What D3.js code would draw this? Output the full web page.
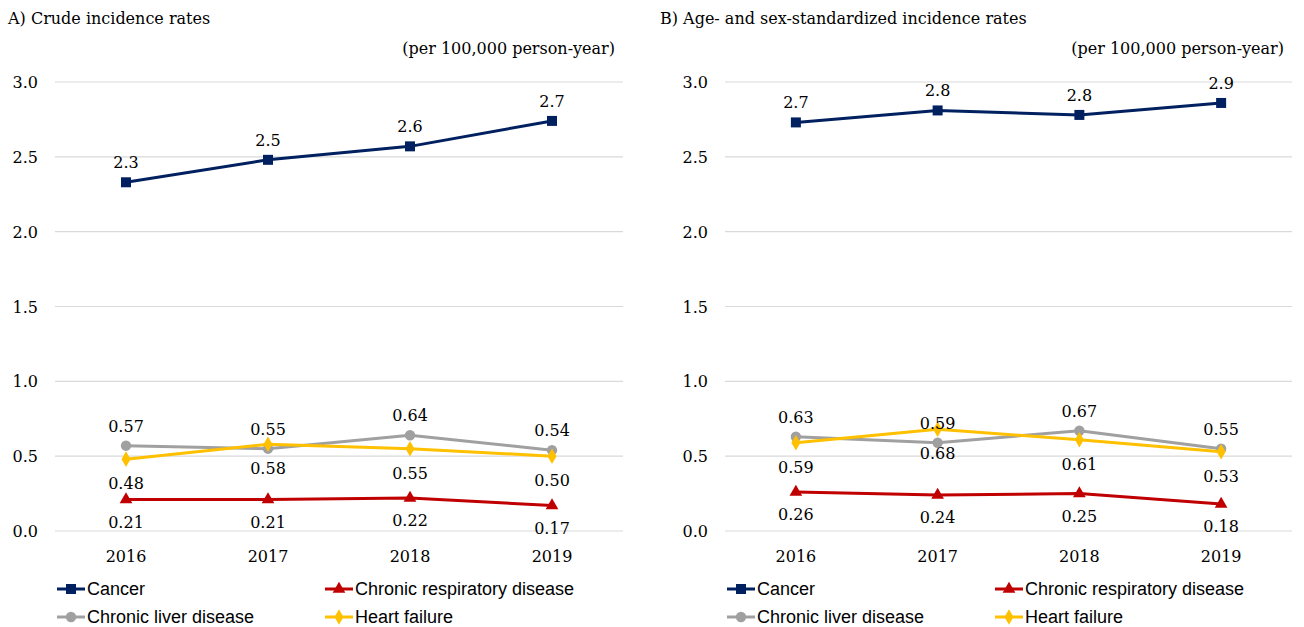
<!DOCTYPE html>
<html>
<head>
<meta charset="utf-8">
<script src="https://cdn.jsdelivr.net/npm/d3@7"></script>
<style>
  body { margin: 0; background: #fff; }
  svg { display: block; }
  .serif { font-family: "DejaVu Serif", "Liberation Serif", serif; fill: #000; }
  .legend-text { font-family: "Liberation Sans", Arial, sans-serif; font-size: 18px; fill: #000; }
</style>
</head>
<body>
<svg id="chart" width="1304" height="627"></svg>
<script>
const years = ['2016', '2017', '2018', '2019']
const yTicks = [0, 0.5, 1.0, 1.5, 2.0, 2.5, 3.0]
const seriesNames = ['Cancer', 'Chronic respiratory disease', 'Chronic liver disease', 'Heart failure']

// A) crude rates
const crudeCancer = [2.33, 2.48, 2.57, 2.74]
const crudeLiver = [0.57, 0.55, 0.64, 0.54]
const crudeHeart = [0.48, 0.58, 0.55, 0.50]
const crudeResp = [0.21, 0.21, 0.22, 0.17]

// B) age- and sex-standardized rates
const stdCancer = [2.73, 2.81, 2.78, 2.86]
const stdLiver = [0.63, 0.59, 0.67, 0.55]
const stdHeart = [0.59, 0.68, 0.61, 0.53]
const stdResp = [0.26, 0.24, 0.25, 0.18]

const panelTitles = ['A) Crude incidence rates', 'B) Age- and sex-standardized incidence rates']
const unitText = '(per 100,000 person-year)'

const styles = {
  'Cancer': { color: '#002060', symbol: d3.symbolSquare, size: 100, fmt: d3.format('.1f'), dy: -14 },
  'Chronic respiratory disease': { color: '#C00000', symbol: d3.symbolTriangle, size: 70, fmt: d3.format('.2f'), dy: 28 },
  'Chronic liver disease': { color: '#A0A0A0', symbol: d3.symbolCircle, size: 85, fmt: d3.format('.2f'), dy: -14 },
  'Heart failure': { color: '#FFC000', symbol: d3.symbolDiamond, size: 70, fmt: d3.format('.2f'), dy: 30 }
}

const $svg = d3.select('#chart')

const y = d3.scaleLinear().domain([0, 3]).range([531, 82])

function drawPanel(opts) {
  const { left, right, title, titleX, series } = opts
  const x = d3.scaleBand().domain(years).range([left, right])
  const cx = d => x(d) + x.bandwidth() / 2
  const $g = $svg.append('g')

  $g.append('text').attr('class', 'serif')
    .attr('x', titleX).attr('y', 24)
    .style('font-size', '16px')
    .text(title)
  $g.append('text').attr('class', 'serif')
    .attr('x', right - 8).attr('y', 54)
    .attr('text-anchor', 'end')
    .style('font-size', '16px')
    .text(unitText)

  // gridlines + y labels
  $g.selectAll('.grid').data(yTicks).enter()
    .append('line')
    .attr('x1', left).attr('x2', right)
    .attr('y1', d => y(d)).attr('y2', d => y(d))
    .attr('stroke', '#D9D9D9').attr('stroke-width', 1.2)
  $g.selectAll('.ylab').data(yTicks).enter()
    .append('text').attr('class', 'serif')
    .attr('x', left - 17).attr('y', d => y(d) + 6)
    .attr('text-anchor', 'end')
    .style('font-size', '16px')
    .text(d3.format('.1f'))

  // x labels
  $g.selectAll('.xlab').data(years).enter()
    .append('text').attr('class', 'serif')
    .attr('x', cx).attr('y', 562)
    .attr('text-anchor', 'middle')
    .style('font-size', '16px')
    .text(d => d)

  const line = d3.line().x(d => cx(d.year)).y(d => y(d.v))

  // draw order: cancer, liver, heart, resp
  const order = ['Cancer', 'Chronic liver disease', 'Heart failure', 'Chronic respiratory disease']
  order.forEach(name => {
    const st = styles[name]
    const pts = years.map((yr, i) => ({ year: yr, v: series[name][i] }))
    $g.append('path').datum(pts)
      .attr('d', line)
      .attr('fill', 'none')
      .attr('stroke', st.color)
      .attr('stroke-width', 3)
      .attr('stroke-linejoin', 'round')
    $g.selectAll(null).data(pts).enter()
      .append('path')
      .attr('d', d3.symbol().type(st.symbol).size(st.size))
      .attr('transform', d => `translate(${cx(d.year)},${y(d.v)})`)
      .attr('fill', st.color)
  })
  order.forEach(name => {
    const st = styles[name]
    $g.selectAll(null).data(series[name]).enter()
      .append('text').attr('class', 'serif')
      .attr('x', (d, i) => cx(years[i]))
      .attr('y', d => y(d) + st.dy)
      .attr('text-anchor', 'middle')
      .style('font-size', '16px')
      .text(st.fmt)
  })

  // legend
  const legendPos = [
    { name: 'Cancer', x: left + 2, y: 589 },
    { name: 'Chronic respiratory disease', x: left + 270, y: 589 },
    { name: 'Chronic liver disease', x: left + 2, y: 617 },
    { name: 'Heart failure', x: left + 270, y: 617 }
  ]
  legendPos.forEach(p => {
    const st = styles[p.name]
    $g.append('line')
      .attr('x1', p.x).attr('x2', p.x + 28)
      .attr('y1', p.y).attr('y2', p.y)
      .attr('stroke', st.color).attr('stroke-width', 3)
    $g.append('path')
      .attr('d', d3.symbol().type(st.symbol).size(st.size))
      .attr('transform', `translate(${p.x + 14},${p.y})`)
      .attr('fill', st.color)
    $g.append('text').attr('class', 'legend-text')
      .attr('x', p.x + 30).attr('y', p.y + 6)
      .text(p.name)
  })
}

drawPanel({
  left: 55, right: 623, title: panelTitles[0], titleX: 8,
  series: {
    'Cancer': crudeCancer,
    'Chronic respiratory disease': crudeResp,
    'Chronic liver disease': crudeLiver,
    'Heart failure': crudeHeart
  }
})
drawPanel({
  left: 725, right: 1292, title: panelTitles[1], titleX: 660,
  series: {
    'Cancer': stdCancer,
    'Chronic respiratory disease': stdResp,
    'Chronic liver disease': stdLiver,
    'Heart failure': stdHeart
  }
})
</script>
</body>
</html>
